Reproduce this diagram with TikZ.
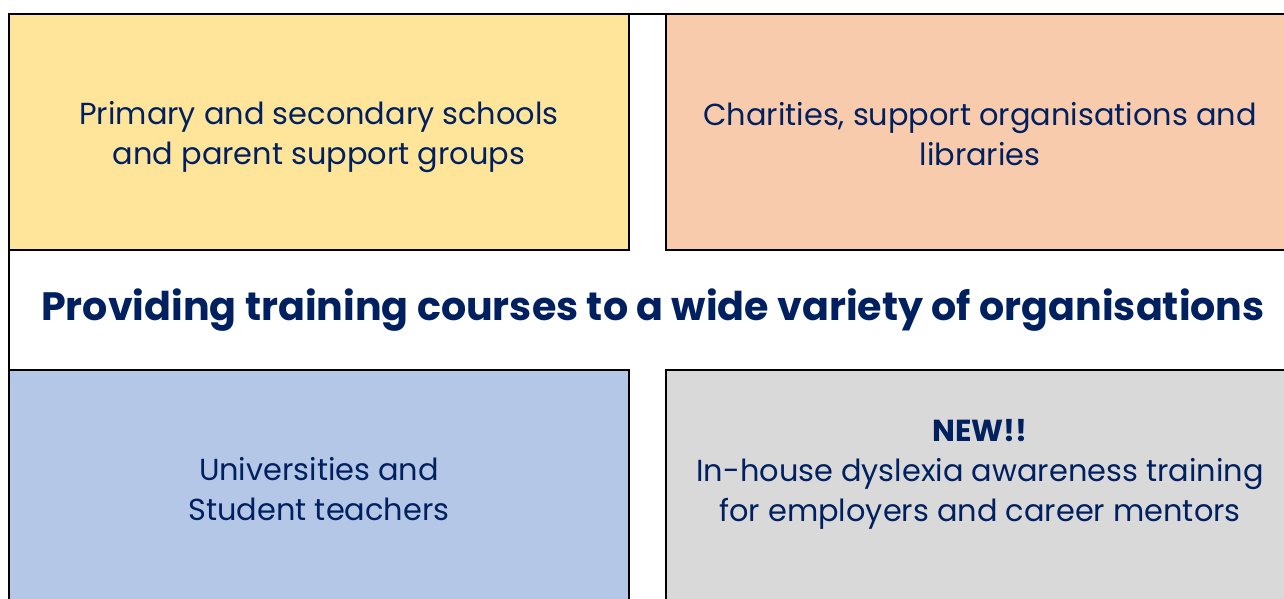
\documentclass[tikz,border=0pt]{standalone}
\usepackage{fontspec}
\setmainfont{Poppins}
\usetikzlibrary{positioning}
\definecolor{navy}{HTML}{002060}
\definecolor{schoolfill}{HTML}{FFE599}
\definecolor{charityfill}{HTML}{F8CBAD}
\definecolor{unifill}{HTML}{B4C7E7}
\definecolor{newfill}{HTML}{D9D9D9}
\begin{document}
\begin{tikzpicture}[x=0.75pt,y=-0.75pt,
    box/.style={draw=black,line width=1.5pt,inner sep=0pt,minimum height=177pt},
    txt/.style={text=navy,align=center,text depth=0pt,font=\fontsize{22.8}{30}\selectfont},
    headline/.style={text=navy,font=\fontsize{29.7}{34}\selectfont\bfseries}]
    \useasboundingbox (0,0) rectangle (1284,599);
    \clip (0,0) rectangle (1284,599);
    \node[draw=black,line width=1.5pt,minimum width=964pt,minimum height=447pt] (frame) at (651.5,312) {};
    % top row
    \node[box,fill=schoolfill,minimum width=465pt] (schools) at (319,132) {};
    \node[box,fill=charityfill,minimum width=471pt] (charities) at (980,132) {};
    % bottom row
    \node[box,fill=unifill,minimum width=465pt,minimum height=180pt] (unis) at (319,490) {};
    \node[box,fill=newfill,minimum width=471pt,minimum height=180pt] (inhouse) at (980,490) {};
    \node[txt,yshift=-1pt] (schoolsText) at (schools.center) {Primary and secondary schools\\and parent support groups};
    \node[txt,yshift=-1.5pt] (charitiesText) at (charities.center) {Charities, support organisations and\\libraries};
    \node[txt,yshift=0.8pt] (unisText) at (unis.center) {Universities and\\Student teachers};
    \node[txt,yshift=14.5pt] (inhouseText) at (inhouse.center) {\textbf{NEW!!}\\In-house dyslexia awareness training\\for employers and career mentors};
    \node[headline] (title) at (653,310) {Providing training courses to a wide variety of organisations};
\end{tikzpicture}
\end{document}
